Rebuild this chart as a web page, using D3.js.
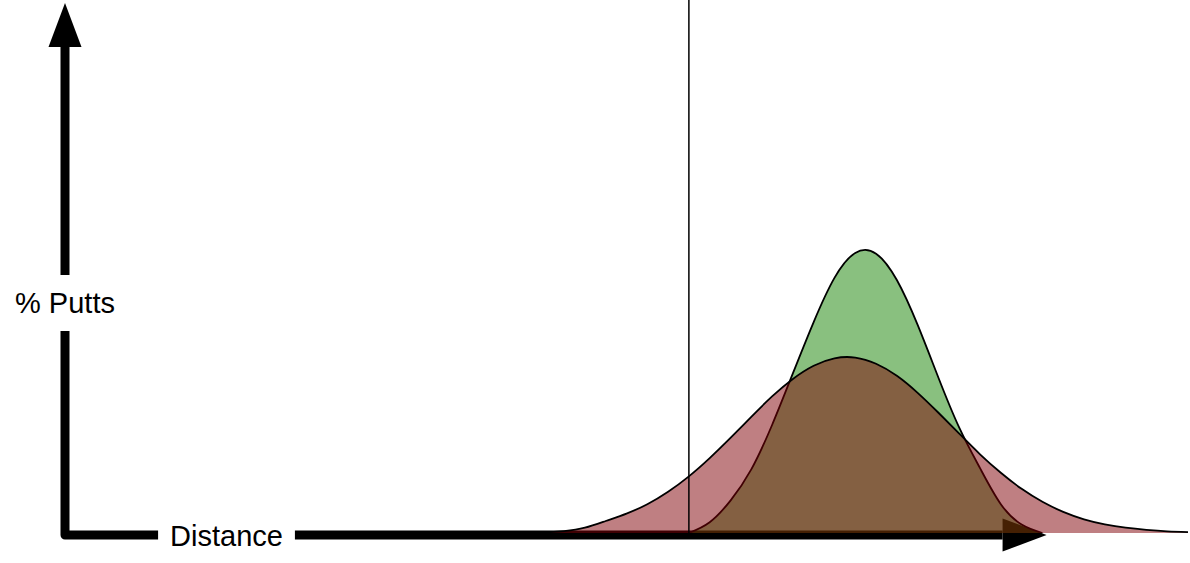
<!DOCTYPE html>
<html>
<head>
<meta charset="utf-8">
<script src="https://cdn.jsdelivr.net/npm/d3@7"></script>
<style>
  body { margin: 0; background: #fff; }
  text { font-family: "Liberation Sans", Helvetica, Arial, sans-serif; }
</style>
</head>
<body>
<svg id="svgfield" width="1190" height="563"></svg>
<script>
// distances (x) and share of putts (y)
var redDist = [22, 23, 24, 25, 26, 27, 28, 29, 30, 31, 32, 33, 34, 35, 36, 37, 38,
               39, 40, 41, 42, 43, 44, 45, 46, 47, 48, 49, 50, 51, 52, 53, 54];
var redPct = [0, 0.02, 0.08, 0.22, 0.5, 0.81, 1.2, 1.72, 2.36, 3.12, 3.96, 4.84, 5.69, 6.42, 6.97, 7.28, 7.31,
              7.05, 6.55, 5.84, 5.01, 4.14, 3.28, 2.51, 1.84, 1.3, 0.88, 0.57, 0.36, 0.22, 0.13, 0.07, 0.04];

var greenDist = [30, 31, 32, 33, 34, 35, 36, 37, 38, 39, 40, 41, 42, 43, 44, 45, 46, 47];
var greenPct = [0, 0.45, 1.35, 2.65, 4.5, 6.65, 8.79, 10.63, 11.67, 11.64, 10.54, 8.67, 6.47, 4.39, 2.7, 1.2, 0.35, 0];

var holeDist = 30;
var xAxisEnd = 47.2;
var xLabel = "Distance";
var yLabel = "% Putts";

var svg = d3.select("#svgfield");

var x = d3.scaleLinear().domain([0, 54]).range([65, 1188]);
var y = d3.scaleLinear().domain([0, 22]).range([533, 5]);

var ox = x(0), oy = y(0) + 2;
var headLen = 44, headHalf = 16.5;
var pad = 12;

// axis labels first so the axis lines can leave gaps round them
var xl = svg.append("text").attr("x", 226.5).attr("y", 546)
    .attr("text-anchor", "middle").style("font-size", "29px").text(xLabel);
var yl = svg.append("text").attr("x", 65).attr("y", 313)
    .attr("text-anchor", "middle").style("font-size", "29px").text(yLabel);
var xb = xl.node().getBBox();
var yb = yl.node().getBBox();

var axes = svg.append("g").attr("fill", "none").attr("stroke", "black")
    .attr("stroke-width", 9).attr("stroke-linejoin", "round");

var yTop = y(22) - 2 + headLen;
var xRight = x(xAxisEnd) - headLen;

axes.append("path").attr("d",
    "M" + ox + "," + (yb.y - pad) + "L" + ox + "," + yTop);
axes.append("path").attr("d",
    "M" + ox + "," + (yb.y + yb.height + pad) + "L" + ox + "," + oy + "L" + (xb.x - pad) + "," + oy);
axes.append("path").attr("d",
    "M" + (xb.x + xb.width + pad) + "," + oy + "L" + xRight + "," + oy);

svg.append("path").attr("fill", "black").attr("d",
    "M" + ox + "," + (y(22) - 2) + "L" + (ox - headHalf) + "," + yTop + "L" + (ox + headHalf) + "," + yTop + "Z");
svg.append("path").attr("fill", "black").attr("d",
    "M" + x(xAxisEnd) + "," + oy + "L" + xRight + "," + (oy - headHalf) + "L" + xRight + "," + (oy + headHalf) + "Z");

var area = d3.area()
    .x(function(d) { return x(d[0]); })
    .y0(y(0))
    .y1(function(d) { return y(d[1]); })
    .curve(d3.curveNatural);
var line = d3.line()
    .x(function(d) { return x(d[0]); })
    .y(function(d) { return y(d[1]); })
    .curve(d3.curveNatural);

var green = d3.zip(greenDist, greenPct);
var red = d3.zip(redDist, redPct);

svg.append("path").datum(green).attr("d", area)
    .attr("fill", "rgb(20,130,0)").attr("fill-opacity", 0.5);
svg.append("path").datum(green).attr("d", line)
    .attr("fill", "none").attr("stroke", "black").attr("stroke-width", 1.8);

svg.append("path").datum(red).attr("d", area)
    .attr("fill", "rgb(128,0,6)").attr("fill-opacity", 0.5);
svg.append("path").datum(red).attr("d", line)
    .attr("fill", "none").attr("stroke", "black").attr("stroke-width", 1.8);

svg.append("line")
    .attr("x1", x(holeDist)).attr("x2", x(holeDist))
    .attr("y1", 0).attr("y2", y(0))
    .attr("stroke", "black").attr("stroke-width", 1.5);
</script>
</body>
</html>
